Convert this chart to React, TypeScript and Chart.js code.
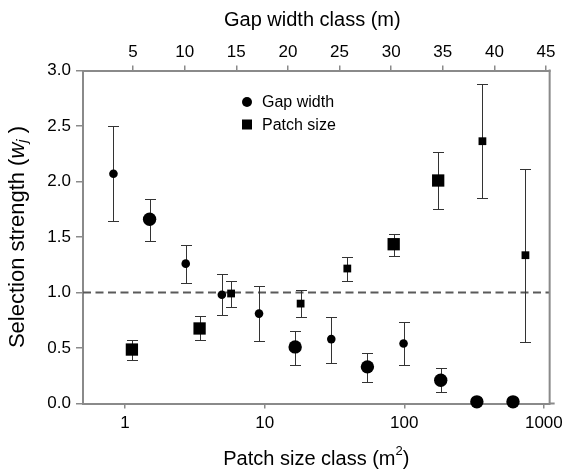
import React, { useEffect, useRef } from "react";
import { Chart, registerables } from "chart.js";

Chart.register(...registerables);

// ---- Data ----
// Gap width series (circles, top axis, metres)
const gapWidth = [3.1, 6.6, 10.1, 13.6, 17.2, 20.7, 24.2, 27.7, 31.2, 34.8, 38.3, 41.8];
const gapValue = [2.07, 1.66, 1.26, 0.98, 0.81, 0.51, 0.58, 0.33, 0.54, 0.21, 0.015, 0.015];
const gapLow = [1.645, 1.462, 1.084, 0.793, 0.559, 0.351, 0.369, 0.198, 0.351, 0.105, null, null];
const gapHigh = [2.5, 1.844, 1.432, 1.165, 1.057, 0.649, 0.781, 0.456, 0.73, 0.32, null, null];
const gapLarge = [false, true, false, false, false, true, false, true, false, true, true, true];

// Patch size series (squares, bottom log axis, m²)
const patchSize = [1.12, 3.42, 5.75, 18.1, 39.1, 84, 175, 363, 738];
const patchValue = [0.486, 0.676, 0.991, 0.9, 1.216, 1.435, 2.009, 2.363, 1.336];
const patchLow = [0.396, 0.574, 0.868, 0.781, 1.108, 1.333, 1.754, 1.847, 0.556];
const patchHigh = [0.574, 0.79, 1.105, 1.021, 1.321, 1.525, 2.27, 2.877, 2.114];
const patchLarge = [true, true, false, false, false, true, true, false, false];

const bottomTicks = [1, 10, 100, 1000];
const topTicks = [5, 10, 15, 20, 25, 30, 35, 40, 45];
const referenceLine = 1.0;

const FONT = '"Liberation Sans", Arial, Helvetica, sans-serif';
const AXIS_COLOR = "#8a8a8a";
const ERR_COLOR = "#333333";

const errorBarsPlugin = {
  id: "errorBars",
  beforeDatasetsDraw(chart: any) {
    const { ctx, chartArea } = chart;
    const y = chart.scales.y;
    // dashed reference line
    ctx.save();
    ctx.strokeStyle = "#5a5a5a";
    ctx.lineWidth = 2;
    ctx.setLineDash([8, 4.5]);
    const ry = y.getPixelForValue(referenceLine);
    ctx.beginPath();
    ctx.moveTo(chartArea.left, ry);
    ctx.lineTo(chartArea.right, ry);
    ctx.stroke();
    ctx.restore();

    ctx.save();
    ctx.strokeStyle = ERR_COLOR;
    ctx.lineWidth = 1;
    chart.data.datasets.forEach((ds: any) => {
      const xs = chart.scales[ds.xAxisID];
      ds.data.forEach((p: any, i: number) => {
        const lo = ds.errLow[i];
        const hi = ds.errHigh[i];
        if (lo == null || hi == null) return;
        const px = Math.round(xs.getPixelForValue(p.x)) + 0.5;
        const pl = Math.round(y.getPixelForValue(lo)) + 0.5;
        const ph = Math.round(y.getPixelForValue(hi)) + 0.5;
        const cap = 5.5;
        ctx.beginPath();
        ctx.moveTo(px, pl);
        ctx.lineTo(px, ph);
        ctx.moveTo(px - cap, pl);
        ctx.lineTo(px + cap, pl);
        ctx.moveTo(px - cap, ph);
        ctx.lineTo(px + cap, ph);
        ctx.stroke();
      });
    });
    ctx.restore();
  },
  afterDraw(chart: any) {
    const { ctx, chartArea } = chart;
    // right frame line and small extension of bottom axis
    ctx.save();
    ctx.strokeStyle = AXIS_COLOR;
    ctx.lineWidth = 2;
    ctx.beginPath();
    ctx.moveTo(chartArea.right, chartArea.top - 1);
    ctx.lineTo(chartArea.right, chartArea.bottom);
    ctx.moveTo(chartArea.right, chartArea.bottom);
    ctx.lineTo(chartArea.right + 5, chartArea.bottom);
    ctx.stroke();
    ctx.restore();

    // legend
    ctx.save();
    ctx.fillStyle = "#000";
    const lx = chartArea.left + 164;
    const ly1 = chartArea.top + 31.5;
    const ly2 = chartArea.top + 54;
    ctx.beginPath();
    ctx.arc(lx, ly1, 5, 0, Math.PI * 2);
    ctx.fill();
    ctx.fillRect(lx - 5, ly2 - 5, 10, 10);
    ctx.font = `16px ${FONT}`;
    ctx.textBaseline = "middle";
    ctx.textAlign = "left";
    ctx.fillText(chart.data.datasets[0].label, lx + 15, ly1 + 1);
    ctx.fillText(chart.data.datasets[1].label, lx + 15, ly2 + 1);
    ctx.restore();

    // axis titles
    ctx.save();
    ctx.fillStyle = "#000";
    ctx.textBaseline = "middle";
    ctx.textAlign = "center";
    ctx.font = `20px ${FONT}`;
    ctx.fillText("Gap width class (m)", (chartArea.left + chartArea.right) / 2 - 4, 20);

    // bottom title with superscript
    const main = "Patch size class (m";
    const sup = "2";
    const close = ")";
    ctx.font = `20px ${FONT}`;
    const wMain = ctx.measureText(main).width;
    const wClose = ctx.measureText(close).width;
    ctx.font = `13px ${FONT}`;
    const wSup = ctx.measureText(sup).width;
    const total = wMain + wSup + wClose;
    let bx = (chartArea.left + chartArea.right) / 2 - total / 2;
    const by = 459;
    ctx.textAlign = "left";
    ctx.font = `20px ${FONT}`;
    ctx.fillText(main, bx, by);
    bx += wMain;
    ctx.font = `13px ${FONT}`;
    ctx.fillText(sup, bx, by - 8);
    bx += wSup;
    ctx.font = `20px ${FONT}`;
    ctx.fillText(close, bx, by);

    // y title, rotated, with italic w and subscript j
    const t1 = "Selection strength (";
    const tw = "w";
    const tj = "j";
    const t3 = " )";
    ctx.font = `22px ${FONT}`;
    const w1 = ctx.measureText(t1).width;
    const w3 = ctx.measureText(t3).width;
    ctx.font = `italic 22px ${FONT}`;
    const ww = ctx.measureText(tw).width;
    ctx.font = `italic 15px ${FONT}`;
    const wj = ctx.measureText(tj).width;
    const tot = w1 + ww + wj + w3;
    ctx.translate(18, (chartArea.top + chartArea.bottom) / 2);
    ctx.rotate(-Math.PI / 2);
    let x = -tot / 2;
    ctx.font = `22px ${FONT}`;
    ctx.fillText(t1, x, 0);
    x += w1;
    ctx.font = `italic 22px ${FONT}`;
    ctx.fillText(tw, x, 0);
    x += ww;
    ctx.font = `italic 15px ${FONT}`;
    ctx.fillText(tj, x, 5);
    x += wj;
    ctx.font = `22px ${FONT}`;
    ctx.fillText(t3, x, 0);
    ctx.restore();
  },
};

export default function App() {
  const ref = useRef<HTMLCanvasElement | null>(null);

  useEffect(() => {
    if (!ref.current) return;
    const tickFont = { family: FONT, size: 17 };
    const chart = new Chart(ref.current, {
      type: "scatter",
      data: {
        datasets: [
          {
            label: "Gap width",
            xAxisID: "x2",
            yAxisID: "y",
            data: gapWidth.map((g, i) => ({ x: g, y: gapValue[i] })),
            pointStyle: "circle",
            pointRadius: gapLarge.map((b) => (b ? 6.7 : 4.3)),
            backgroundColor: "#000",
            borderColor: "#000",
            borderWidth: 0,
            clip: false,
            errLow: gapLow,
            errHigh: gapHigh,
          } as any,
          {
            label: "Patch size",
            xAxisID: "x",
            yAxisID: "y",
            data: patchSize.map((p, i) => ({ x: p, y: patchValue[i] })),
            pointStyle: "rect",
            pointRadius: patchLarge.map((b) => (b ? 8.7 : 5.5)),
            backgroundColor: "#000",
            borderColor: "#000",
            borderWidth: 0,
            clip: false,
            errLow: patchLow,
            errHigh: patchHigh,
          } as any,
        ],
      },
      options: {
        responsive: false,
        animation: false,
        events: [],
        layout: { padding: { left: 0, right: 16, top: 0, bottom: 0 } },
        plugins: { legend: { display: false }, tooltip: { enabled: false } },
        scales: {
          x: {
            type: "logarithmic",
            position: "bottom",
            min: 0.5,
            max: 1100,
            afterBuildTicks: (s: any) => {
              s.ticks = bottomTicks.map((v) => ({ value: v }));
            },
            afterFit: (s: any) => {
              s.height = 66.5;
            },
            ticks: {
              callback: (v: any) => String(v),
              font: tickFont,
              color: "#000",
              padding: 5,
              maxRotation: 0,
              autoSkip: false,
            },
            grid: {
              display: true,
              drawOnChartArea: false,
              drawTicks: true,
              tickLength: 5,
              color: AXIS_COLOR,
              lineWidth: 1.5,
            },
            border: { display: true, color: AXIS_COLOR, width: 2 },
          },
          x2: {
            type: "linear",
            position: "top",
            min: 0.15,
            max: 45.35,
            afterBuildTicks: (s: any) => {
              s.ticks = topTicks.map((v) => ({ value: v }));
            },
            afterFit: (s: any) => {
              s.height = 70.5;
            },
            ticks: {
              callback: (v: any) => String(v),
              font: tickFont,
              color: "#000",
              padding: 3,
              maxRotation: 0,
              autoSkip: false,
            },
            grid: {
              display: true,
              drawOnChartArea: false,
              drawTicks: true,
              tickLength: 5,
              color: AXIS_COLOR,
              lineWidth: 1.5,
            },
            border: { display: true, color: AXIS_COLOR, width: 2 },
          },
          y: {
            type: "linear",
            position: "left",
            min: 0,
            max: 3,
            afterFit: (s: any) => {
              s.width = 83;
            },
            ticks: {
              stepSize: 0.5,
              callback: (v: any) => Number(v).toFixed(1),
              font: tickFont,
              color: "#000",
              padding: 5,
            },
            grid: {
              display: true,
              drawOnChartArea: false,
              drawTicks: true,
              tickLength: 7,
              color: AXIS_COLOR,
              lineWidth: 1.5,
            },
            border: { display: true, color: AXIS_COLOR, width: 2 },
          },
        },
      } as any,
      plugins: [errorBarsPlugin],
    });
    return () => chart.destroy();
  }, []);

  return (
    <div style={{ position: "absolute", left: 0, top: 0, width: 568, height: 470 }}>
      <canvas ref={ref} width={568} height={470} style={{ width: 568, height: 470 }} />
    </div>
  );
}
